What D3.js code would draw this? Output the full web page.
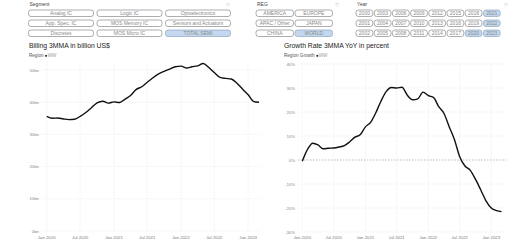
<!DOCTYPE html>
<html>
<head>
<meta charset="utf-8">
<script src="https://cdn.jsdelivr.net/npm/d3@7"></script>
<style>
  body { margin: 0; background: #fff; }
  svg { display: block; font-family: "Liberation Sans", Arial, sans-serif; }
</style>
</head>
<body>
<div id="chart"></div>
<script>
// filter panels
const segments = ["Analog IC", "Logic IC", "Optoelectronics",
                  "App. Spec. IC", "MOS Memory IC", "Sensors and Actuators",
                  "Discretes", "MOS Micro IC", "TOTAL SEMI"];
const selectedSegments = ["TOTAL SEMI"];
const regions = ["AMERICA", "EUROPE", "APAC / Other", "JAPAN", "CHINA", "WORLD"];
const selectedRegions = ["WORLD"];
const years = ["2000","2003","2006","2009","2012","2015","2018","2021",
               "2001","2004","2007","2010","2013","2016","2019","2022",
               "2002","2005","2008","2011","2014","2017","2020","2023"];
const selectedYears = ["2020","2021","2022","2023"];

// series: Jan 2020 .. Mar 2023
const months = d3.timeMonth.range(new Date(2020, 0, 1), new Date(2023, 3, 1));
const billing = [35.6, 35.0, 35.1, 34.8, 34.6, 34.7, 35.6, 36.8, 38.3, 39.8,
                 40.3, 39.7, 40.1, 39.9, 40.9, 42.1, 43.9, 44.8, 46.2, 47.6,
                 48.8, 49.6, 50.3, 51.0, 51.2, 50.6, 51.0, 51.3, 52.0, 50.8,
                 49.2, 47.7, 47.4, 47.2, 45.9, 44.1, 42.3, 40.2, 40.0];
const growth = [-0.5, 4.5, 7.0, 6.3, 4.7, 4.9, 5.0, 5.4, 6.0, 7.5,
                9.5, 10.5, 13.8, 15.8, 19.5, 24.5, 28.5, 30.2, 30.0, 30.3,
                27.0, 25.1, 25.5, 28.3, 26.8, 26.0, 22.3, 19.5, 14.0, 8.5,
                1.5, -2.5, -4.3, -8.0, -12.5, -17.0, -20.0, -21.1, -21.5];
const xTickDates = [new Date(2020,0,1), new Date(2020,6,1), new Date(2021,0,1),
                    new Date(2021,6,1), new Date(2022,0,1), new Date(2022,6,1),
                    new Date(2023,0,1)];
const billingTicks = [0, 10, 20, 30, 40, 50];
const growthTicks = [-30, -20, -10, 0, 10, 20, 30, 40];

const svg = d3.select("#chart").append("svg")
    .attr("width", 513).attr("height", 241);

//Draws a group of toggle buttons laid out in a grid
function buttonGroup(title, items, selected, x0, y0, cols, bw, bh, gx, gy, iconX) {
    const g = svg.append("g").attr("transform", "translate(" + x0 + "," + y0 + ")");
    g.append("text").attr("x", 1).attr("y", 0).attr("font-size", 5)
        .attr("fill", "#444").text(title);
    g.append("text").attr("x", iconX).attr("y", 0).attr("font-size", 5)
        .attr("text-anchor", "middle").attr("fill", "#bbb").text("◇");
    const b = g.selectAll(".btn").data(items).enter().append("g")
        .attr("transform", (d, i) => "translate(" + (i % cols) * (bw + gx) + "," + (4 + Math.floor(i / cols) * (bh + gy)) + ")");
    b.append("rect")
        .attr("width", bw).attr("height", bh).attr("rx", 2.5)
        .attr("fill", d => selected.includes(d) ? "#c3d8ee" : "#fff")
        .attr("stroke", d => selected.includes(d) ? "#8fa7c0" : "#8a8a8a")
        .attr("stroke-width", 0.7);
    b.append("text").attr("x", bw / 2).attr("y", bh / 2 + 1.8)
        .attr("text-anchor", "middle").attr("font-size", 5)
        .attr("fill", "#888").text(d => d);
}

buttonGroup("Segment", segments, selectedSegments, 28.5, 6, 3, 65, 6.5, 3.5, 3.5, 199);
buttonGroup("REG", regions, selectedRegions, 256, 6, 2, 37.5, 6.5, 1.5, 3.5, 81);
buttonGroup("Year", years, selectedYears, 356, 6, 8, 16.8, 6.5, 1.4, 3.5, 150);

//Draws one line chart with grid, axes labels and legend
function lineChart(opt) {
    const x = d3.scaleTime().domain(d3.extent(months)).range(opt.xr);
    const y = d3.scaleLinear().domain(opt.yd).range(opt.yr);
    const g = svg.append("g");

    g.append("text").attr("x", opt.tx).attr("y", 48).attr("font-size", 6.8)
        .attr("fill", "#222").text(opt.title);
    const lg = g.append("text").attr("x", opt.tx).attr("y", 57).attr("font-size", 4.6).attr("fill", "#555");
    lg.append("tspan").text(opt.legend + " ");
    lg.append("tspan").attr("fill", "#111").text("●");
    lg.append("tspan").attr("fill", "#999").text("WW");

    // horizontal grid
    g.selectAll(".hg").data(opt.ticks).enter().append("line")
        .attr("x1", opt.gx[0]).attr("x2", opt.gx[1])
        .attr("y1", d => y(d)).attr("y2", d => y(d))
        .attr("stroke", d => d === 0 && opt.zero ? "#aaa" : "#e6e6e6")
        .attr("stroke-width", d => d === 0 && opt.zero ? 0.8 : 0.6)
        .attr("stroke-dasharray", d => d === 0 && opt.zero ? "1.5,1.5" : "1,1");
    // vertical grid
    g.selectAll(".vg").data(xTickDates).enter().append("line")
        .attr("x1", d => x(d)).attr("x2", d => x(d))
        .attr("y1", opt.gy[0]).attr("y2", opt.gy[1])
        .attr("stroke", "#e6e6e6").attr("stroke-width", 0.6)
        .attr("stroke-dasharray", "1,1");

    g.selectAll(".yl").data(opt.ticks).enter().append("text")
        .attr("x", opt.lx).attr("y", d => y(d) + 1.5)
        .attr("text-anchor", "end").attr("font-size", 4.3).attr("fill", "#888")
        .text(opt.fmt);
    g.selectAll(".xl").data(xTickDates).enter().append("text")
        .attr("x", d => x(d)).attr("y", 238.5)
        .attr("text-anchor", "middle").attr("font-size", 4.3).attr("fill", "#777")
        .text(d3.timeFormat("%b %Y"));

    const line = d3.line().x((d, i) => x(months[i])).y(d => y(d)).curve(d3.curveMonotoneX);
    g.append("path").datum(opt.values)
        .attr("d", line).attr("fill", "none")
        .attr("stroke", "#111").attr("stroke-width", 1.4)
        .attr("stroke-linejoin", "round");
}

lineChart({
    title: "Billing 3MMA in billion US$", legend: "Region", tx: 29,
    values: billing, xr: [46.7, 259], yd: [0, 50], yr: [231, 70],
    ticks: billingTicks, gx: [43, 260], gy: [62, 231], lx: 39,
    fmt: d => d + "bn", zero: false
});
lineChart({
    title: "Growth Rate 3MMA YoY in percent", legend: "Region Growth", tx: 284,
    values: growth, xr: [302.3, 501.5], yd: [-30, 40], yr: [232, 64],
    ticks: growthTicks, gx: [298, 506], gy: [62, 232], lx: 295,
    fmt: d => d + "%", zero: true
});
</script>
</body>
</html>
